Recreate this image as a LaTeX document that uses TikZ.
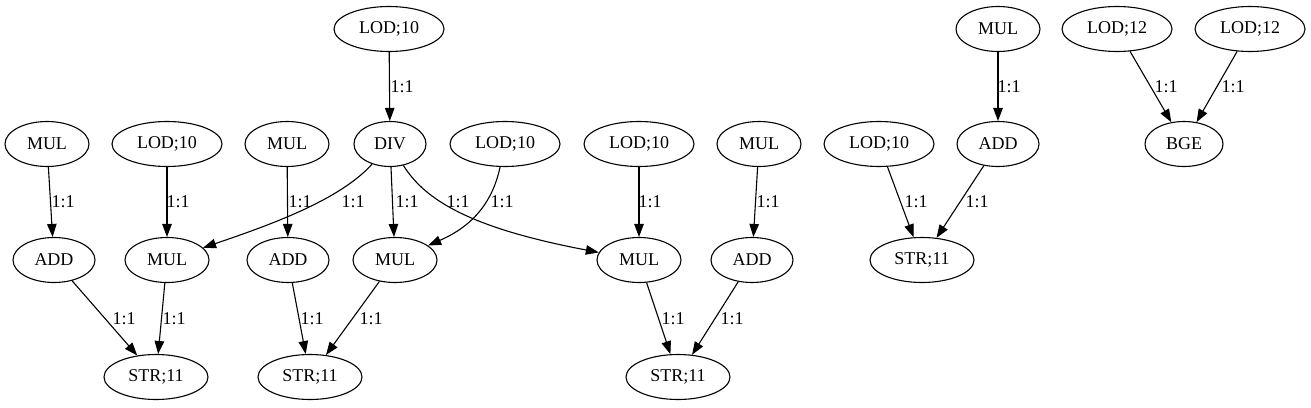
\documentclass[tikz,border=0pt]{standalone}
\usepackage{fontspec}
\setmainfont{Liberation Serif}
\usetikzlibrary{shapes.geometric,arrows.meta}
\begin{document}
\begin{tikzpicture}[x=1pt,y=-1pt,
  every node/.style={font=\fontsize{18}{20}\selectfont},
  nd/.style={draw,ellipse,line width=1.1pt,inner sep=0pt,minimum height=45pt},
  wMUL/.style={nd,minimum width=84pt},
  wADD/.style={nd,minimum width=82pt},
  wDIV/.style={nd,minimum width=72pt},
  wLOD/.style={nd,minimum width=110pt},
  wSTR/.style={nd,minimum width=104pt},
  wBGE/.style={nd,minimum width=78pt},
  lbl/.style={inner sep=0pt},
  edge/.style={draw,line width=1.1pt,-{Triangle[length=13pt,width=9.5pt]}}]
\useasboundingbox (0,0) rectangle (1311,407);
% row 0
\node[wLOD] (lodT) at (389,29) {LOD;10};
\node[wMUL] (mulG) at (998,29) {MUL};
\node[wLOD] (lod12a) at (1117,29) {LOD;12};
\node[wLOD] (lod12b) at (1250,29) {LOD;12};
% row 1
\node[wMUL] (mulA) at (47,144) {MUL};
\node[wLOD] (lodB) at (167,144) {LOD;10};
\node[wMUL] (mulC) at (287,144) {MUL};
\node[wDIV] (div) at (390,144) {DIV};
\node[wLOD] (lodD) at (505,144) {LOD;10};
\node[wLOD] (lodE) at (639,144) {LOD;10};
\node[wMUL] (mulF) at (759,144) {MUL};
\node[wLOD] (lodH) at (879,144) {LOD;10};
\node[wADD] (addI) at (998,144) {ADD};
\node[wBGE] (bge) at (1184,144) {BGE};
% row 2
\node[wADD] (add1) at (54,260) {ADD};
\node[wMUL] (mul2) at (167,260) {MUL};
\node[wADD] (add3) at (288,260) {ADD};
\node[wMUL] (mul4) at (395,260) {MUL};
\node[wMUL] (mul5) at (639,260) {MUL};
\node[wADD] (add6) at (752,260) {ADD};
\node[wSTR] (strJ) at (922,260) {STR;11};
% row 3
\node[wSTR] (str1) at (156,377) {STR;11};
\node[wSTR] (str2) at (310,377) {STR;11};
\node[wSTR] (str3) at (678,377) {STR;11};
% edges
\path[edge] (lodT) -- (div);
\path[edge] (mulA) -- (add1);
\path[edge] (lodB) -- (mul2);
\path[edge] (mulC) -- (add3);
\path[edge] (div) .. controls (340,200) and (270,225) .. (mul2);
\path[edge] (div) -- (mul4);
\path[edge] (div) .. controls (425,200) and (470,228) .. (mul5);
\path[edge] (lodD) .. controls (493,200) and (475,225) .. (mul4);
\path[edge] (lodE) -- (mul5);
\path[edge] (mulF) -- (add6);
\path[edge] (add1) -- (str1);
\path[edge] (mul2) -- (str1);
\path[edge] (add3) -- (str2);
\path[edge] (mul4) -- (str2);
\path[edge] (mul5) -- (str3);
\path[edge] (add6) -- (str3);
\path[edge] (mulG) -- (addI);
\path[edge] (lod12a) -- (bge);
\path[edge] (lod12b) -- (bge);
\path[edge] (lodH) -- (strJ);
\path[edge] (addI) -- (strJ);
% labels
\node[lbl] (l1) at (402,87) {1:1};
\node[lbl] (l2) at (1009,87) {1:1};
\node[lbl] (l3) at (1166,87) {1:1};
\node[lbl] (l4) at (1233,87) {1:1};
\node[lbl] (l5) at (63,202) {1:1};
\node[lbl] (l6) at (178,202) {1:1};
\node[lbl] (l7) at (300,202) {1:1};
\node[lbl] (l8) at (353,202) {1:1};
\node[lbl] (l9) at (407,202) {1:1};
\node[lbl] (l10) at (458,202) {1:1};
\node[lbl] (l11) at (502,202) {1:1};
\node[lbl] (l12) at (650,202) {1:1};
\node[lbl] (l13) at (768,202) {1:1};
\node[lbl] (l14) at (916,202) {1:1};
\node[lbl] (l15) at (977,202) {1:1};
\node[lbl] (l16) at (124,319) {1:1};
\node[lbl] (l17) at (174,319) {1:1};
\node[lbl] (l18) at (312,319) {1:1};
\node[lbl] (l19) at (371,319) {1:1};
\node[lbl] (l20) at (673,319) {1:1};
\node[lbl] (l21) at (732,319) {1:1};
\end{tikzpicture}
\end{document}
